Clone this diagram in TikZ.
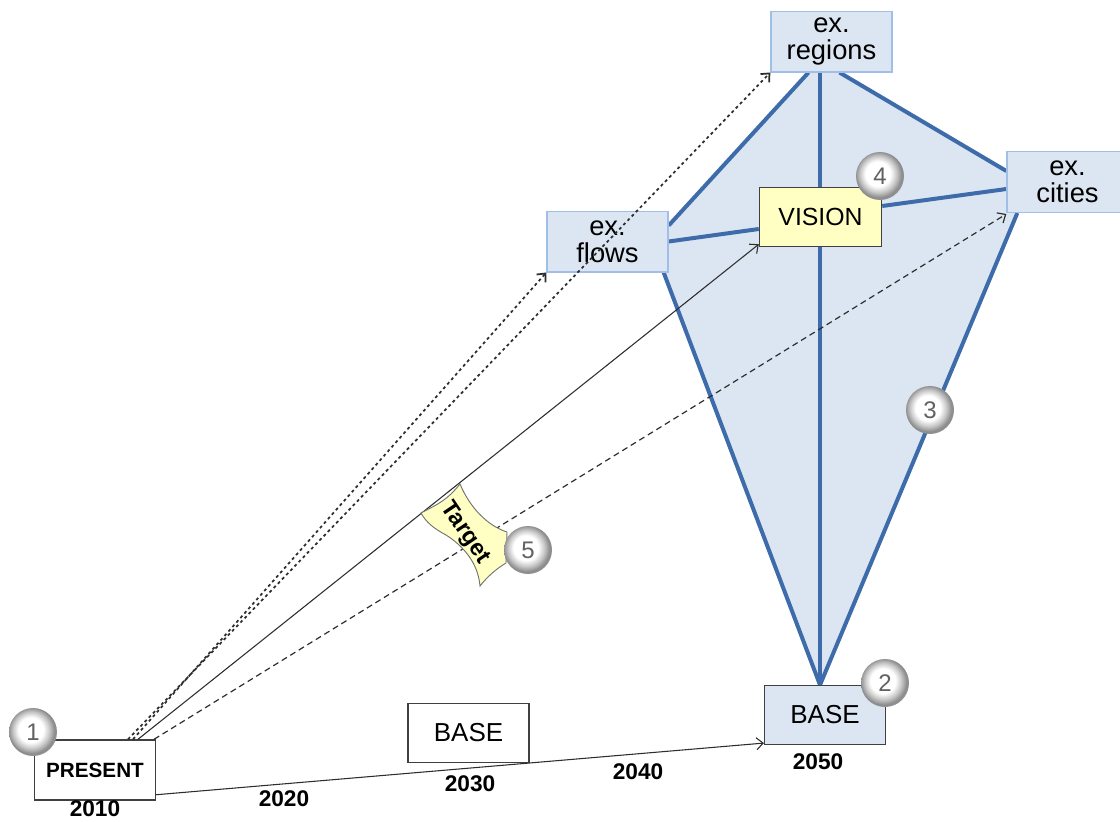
\documentclass[tikz,border=0pt]{standalone}
\usepackage{fontspec}
\setmainfont{Liberation Sans}
\usetikzlibrary{arrows.meta,calc,backgrounds}
\definecolor{kitefill}{RGB}{220,230,242}
\definecolor{kiteline}{RGB}{62,108,170}
\definecolor{boxline}{RGB}{160,190,232}
\definecolor{visfill}{RGB}{255,255,196}
\definecolor{lineg}{RGB}{45,45,45}
\pgfdeclareradialshading{ballshade}{\pgfpoint{-3bp}{3bp}}{color(0bp)=(white); color(13bp)=(white); color(19bp)=(black!22); color(24bp)=(black!45); color(28bp)=(black!40); color(50bp)=(black!40)}
\tikzset{
  exbox/.style={draw=boxline, line width=1pt, fill=kitefill, minimum width=90.75pt, minimum height=45.5pt, inner sep=0pt, align=center, font=\fontsize{20.5}{20.5}\selectfont},
  plainbox/.style={draw=black!75, line width=1.1pt, minimum width=90.5pt, minimum height=44pt, inner sep=0pt},
  yearlbl/.style={font=\bfseries\fontsize{17}{17}\selectfont, inner sep=0pt},
  kiteedge/.style={draw=kiteline, line width=3pt},
  arr/.style={draw=lineg, line width=0.8pt, -{Straight Barb[length=5pt,width=9pt]}},
  dotarr/.style={arr, line width=1.3pt, dash pattern=on 2.2pt off 2.3pt},
  dasharr/.style={arr, line width=0.9pt, dash pattern=on 4.5pt off 3pt},
  numball/.style={circle, minimum size=36pt, inner sep=0pt, shade, shading=ballshade, text=black!62, font=\fontsize{18}{18}\selectfont}
}
\begin{document}
\begin{tikzpicture}[x=0.75pt, y=-0.75pt]
\useasboundingbox (0,0) rectangle (1120,821);
\clip (0,0) rectangle (1120,821);

% boxes
\node[exbox] (regions) at (831.5,41.5) {ex.\\regions};
\node[exbox] (flows) at (607.5,241.5) {ex.\\flows};
\node[exbox] (cities) at (1067.5,182) {ex.\\cities};
\node[plainbox, fill=visfill, minimum width=91.5pt, minimum height=44.25pt, font=\fontsize{18.6}{18.6}\selectfont] (vision) at (820.5,217) {VISION};
\node[plainbox, fill=kitefill, font=\fontsize{19.5}{19.5}\selectfont] (base) at (825,715) {BASE};
\node[plainbox, fill=white, font=\fontsize{19.5}{19.5}\selectfont] (base2) at (468.5,733) {BASE};
\node[plainbox, fill=white, minimum height=45pt, font=\bfseries\fontsize{15.5}{15.5}\selectfont] (present) at (95,770) {PRESENT};

% kite
\begin{pgfonlayer}{background}
\coordinate (rA) at ($(regions.south)+(-23,0)$);
\coordinate (rB) at ($(regions.south)+(8,0)$);
\coordinate (rC) at ($(regions.south)+(-11.5,0)$);
\coordinate (fT) at ($(flows.north east)+(0,15)$);
\coordinate (fB) at ($(flows.south east)+(-5,0)$);
\coordinate (cT) at ($(cities.west)+(0,-11)$);
\coordinate (cB) at ($(cities.south west)+(11,0)$);
\coordinate (bT) at ($(base.north)+(-5,0)$);
\fill[kitefill] (rA) -- (rB) -- (cT) -- (cB) -- (bT) -- (fB) -- (fT) -- cycle;
\draw[kiteedge] (rA) -- (fT);
\draw[kiteedge] (rB) -- (cT);
\draw[kiteedge] (rC) -- (bT);
\draw[kiteedge] (fB) -- (bT);
\draw[kiteedge] (cB) -- (bT);
\draw[kiteedge] (flows.east) -- ($(vision.west)+(0,12)$);
\draw[kiteedge] ($(vision.east)+(0,-11)$) -- ($(cities.west)+(0,7)$);
\end{pgfonlayer}

% connectors
\draw[arr] ($(present.south east)+(0,-6)$) -- ($(base.south west)+(0,-2)$);
\draw[dotarr] ($(present.north)+(33,0)$) -- (regions.south west);
\draw[dotarr] ($(present.north)+(38,0)$) -- (flows.south west);
\draw[arr] ($(present.north)+(43,0)$) -- ($(vision.south west)+(0,-3)$);
\draw[dasharr] ($(present.north east)+(-2,0)$) -- ($(cities.south west)+(0,1)$);

% years
\node[yearlbl] (y2010) at (95,809) {2010};
\node[yearlbl] (y2020) at (284,799) {2020};
\node[yearlbl] (y2030) at (470,784) {2030};
\node[yearlbl] (y2040) at (638,772) {2040};
\node[yearlbl] (y2050) at (818,762) {2050};

% target flag
\draw[fill=visfill, draw=black!55, line width=0.7pt]
  (421,513) .. controls (440,503) and (447,500) .. (460,484)
  .. controls (470,508) and (488,526) .. (507,532)
  -- (506,563)
  .. controls (496,569) and (487,577) .. (480,586)
  .. controls (478,562) and (462,545) .. (446,535)
  .. controls (433,528) and (426,522) .. (421,513) -- cycle;
\node[rotate=-56, font=\bfseries\fontsize{17.5}{17.5}\selectfont, inner sep=0pt] (target) at (465,533) {Target};

% numbered balls
\node[numball] (b1) at (33,732) {1};
\node[numball] (b2) at (885,683) {2};
\node[numball] (b3) at (930,410) {3};
\node[numball] (b4) at (880,176) {4};
\node[numball] (b5) at (528,550) {5};
\end{tikzpicture}
\end{document}
